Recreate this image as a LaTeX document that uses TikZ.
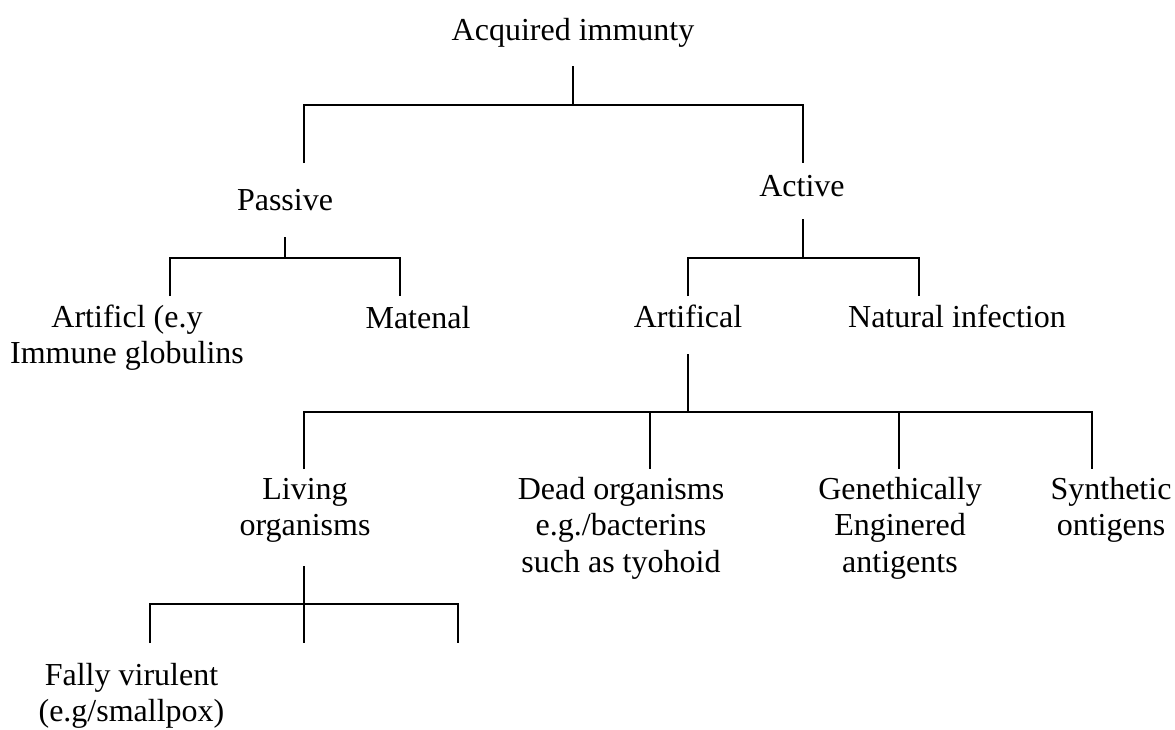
\documentclass[tikz,border=0pt]{standalone}
\usepackage{fontspec}
\setmainfont{Liberation Serif}
\usetikzlibrary{calc}
\newcommand{\mlines}[1]{\begin{tabular}[t]{@{}c@{}}#1\end{tabular}}
\begin{document}
\begin{tikzpicture}[x=1pt,y=-1pt,
  lbl/.style={anchor=base, inner sep=0pt, font=\fontsize{32}{36.5}\selectfont},
  conn/.style={line width=1.6pt, line cap=butt, line join=miter}]
\useasboundingbox[fill=white] (0,0) rectangle (1175,729);

% ---- labels
\node[lbl] (acq)  at (573,40)   {Acquired immunty};
\node[lbl] (pas)  at (285,210)  {Passive};
\node[lbl] (act)  at (802,196)  {Active};
\node[lbl] (artp) at (127,327)  {\mlines{Artificl (e.y\\Immune globulins}};
\node[lbl] (mat)  at (418,328)  {Matenal};
\node[lbl] (artf) at (688,327)  {Artifical};
\node[lbl] (nat)  at (957,327)  {Natural infection};
\node[lbl] (liv)  at (305,499)  {\mlines{Living\\organisms}};
\node[lbl] (dead) at (621,499)  {\mlines{Dead organisms\\e.g./bacterins\\such as tyohoid}};
\node[lbl] (gen)  at (900,499)  {\mlines{Genethically\\Enginered\\antigents}};
\node[lbl] (syn)  at (1111,499) {\mlines{Synthetic\\ontigens}};
\node[lbl] (fal)  at (131.5,685){\mlines{Fally virulent\\(e.g/smallpox)}};

% ---- junction coordinates
\coordinate (acqS) at (573,66);
\coordinate (b1)   at (573,105);
\coordinate (b1l)  at (304,105);
\coordinate (b1r)  at (803,105);
\coordinate (pasT) at (304,163);
\coordinate (actT) at (803,163);

\coordinate (pasS) at (285,237);
\coordinate (b2)   at (285,258);
\coordinate (b2l)  at (170,258);
\coordinate (b2r)  at (400,258);
\coordinate (artpT) at (170,296);
\coordinate (matT)  at (400,296);

\coordinate (actS) at (803,219);
\coordinate (b3)   at (803,258);
\coordinate (b3l)  at (688,258);
\coordinate (b3r)  at (919,258);
\coordinate (artfT) at (688,296);
\coordinate (natT)  at (919,296);

\coordinate (artfS) at (688,354);
\coordinate (b4)    at (688,412);
\coordinate (b4l)   at (304,412);
\coordinate (b4d)   at (650,412);
\coordinate (b4g)   at (899,412);
\coordinate (b4r)   at (1092,412);
\coordinate (livT)  at (304,469);
\coordinate (deadT) at (650,469);
\coordinate (genT)  at (899,469);
\coordinate (synT)  at (1092,469);

\coordinate (livS) at (304,566);
\coordinate (b5)   at (304,604);
\coordinate (b5l)  at (150,604);
\coordinate (b5r)  at (458,604);
\coordinate (falT) at (150,643);
\coordinate (midT) at (304,643);
\coordinate (rgtT) at (458,643);

% ---- connectors
\draw[conn] (acqS) -- (b1);
\draw[conn] (pasT) -- (b1l) -- (b1r) -- (actT);

\draw[conn] (pasS) -- (b2);
\draw[conn] (artpT) -- (b2l) -- (b2r) -- (matT);

\draw[conn] (actS) -- (b3);
\draw[conn] (artfT) -- (b3l) -- (b3r) -- (natT);

\draw[conn] (artfS) -- (b4);
\draw[conn] (livT) -- (b4l) -- (b4r) -- (synT);
\draw[conn] (b4d) -- (deadT);
\draw[conn] (b4g) -- (genT);

\draw[conn] (livS) -- (midT);
\draw[conn] (falT) -- (b5l) -- (b5r) -- (rgtT);
\end{tikzpicture}
\end{document}
